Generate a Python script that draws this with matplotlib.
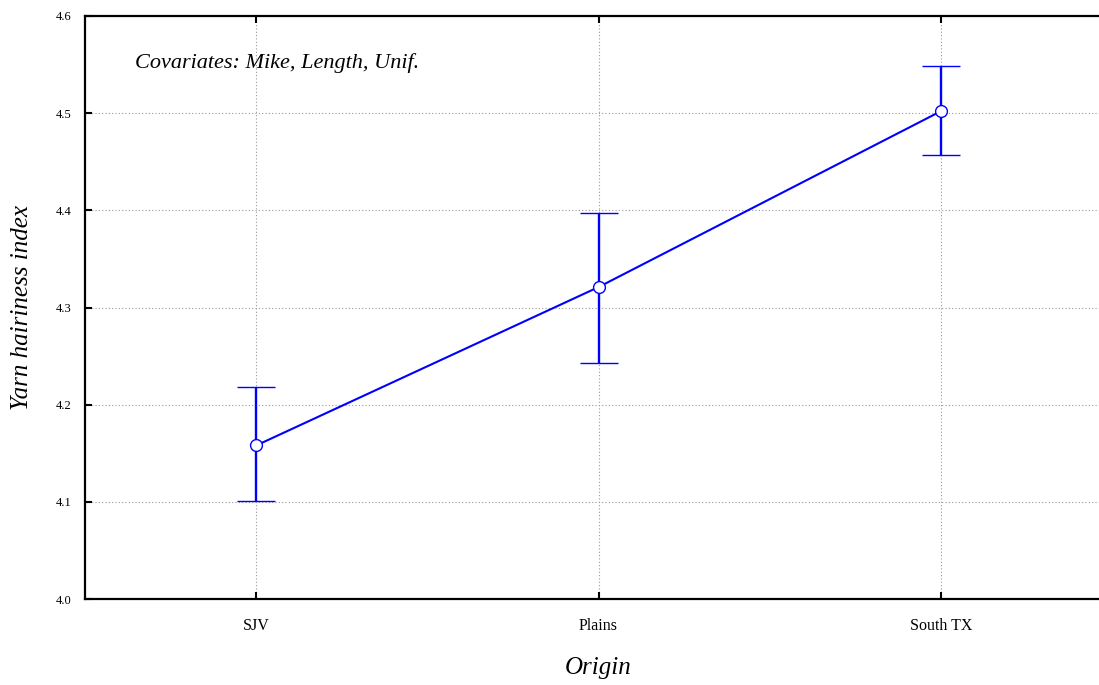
import matplotlib.pyplot as plt

origins = ["SJV", "Plains", "South TX"]
means = [4.158, 4.321, 4.502]
upper = [4.218, 4.397, 4.549]
lower = [4.101, 4.243, 4.457]

plt.rcParams['font.family'] = ['Liberation Serif', 'DejaVu Serif']

fig = plt.figure(figsize=(10.99, 6.85), dpi=100)
ax = fig.add_axes([85 / 1099, 1 - 599 / 685, 1027 / 1099, 583 / 685])

x = list(range(len(origins)))
err_lo = [m - l for m, l in zip(means, lower)]
err_hi = [u - m for m, u in zip(means, upper)]

ax.errorbar(x, means, yerr=[err_lo, err_hi], color='#0000ff', lw=1.5,
            capsize=13.5, capthick=1.9, elinewidth=1.7,
            marker='o', markersize=8.5, markerfacecolor='white',
            markeredgecolor='#0000ff', markeredgewidth=1.0, zorder=3)

ax.set_xlim(-0.5, 2.5)
ax.set_ylim(4.0, 4.6)
ax.set_xticks(x)
ax.set_xticklabels(origins, fontsize=11.5)
ax.set_yticks([4.0, 4.1, 4.2, 4.3, 4.4, 4.5, 4.6])
ax.set_yticklabels(["4.0", "4.1", "4.2", "4.3", "4.4", "4.5", "4.6"], fontsize=9)
ax.tick_params(direction='in', top=True, length=5, width=1.5, pad=10)
ax.tick_params(axis='x', pad=14)
ax.grid(True, linestyle=(0, (1, 2)), color='#999999', lw=0.8)
for s in ['left', 'bottom', 'top']:
    ax.spines[s].set_linewidth(1.6)
ax.spines['right'].set_visible(False)

ax.set_xlabel("Origin", fontsize=18, style='italic', labelpad=16)
ax.set_ylabel("Yarn hairiness index", fontsize=18, style='italic', labelpad=16)
ax.text(50 / 1027, 4.552, "Covariates: Mike, Length, Unif.", fontsize=16,
        style='italic', transform=ax.get_yaxis_transform(), va='center', ha='left')

fig.savefig("out.png", dpi=100)
